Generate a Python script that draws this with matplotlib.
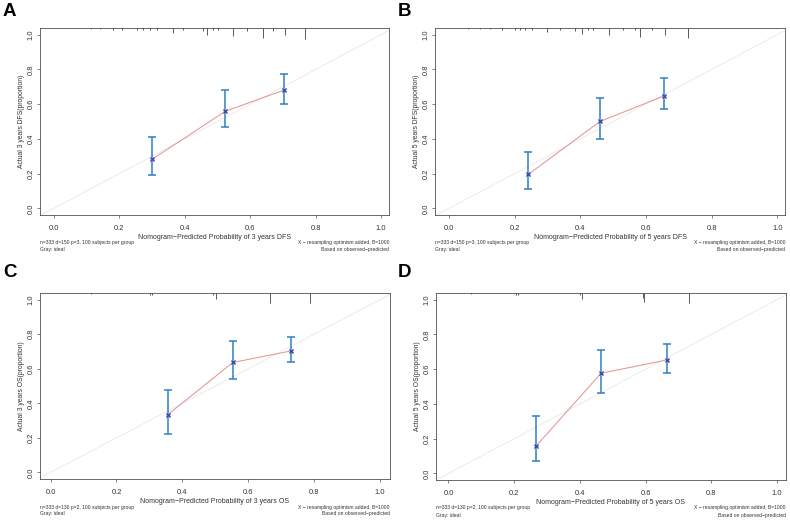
import matplotlib
matplotlib.use("Agg")
import matplotlib.pyplot as plt
import numpy as np

plt.rcParams['font.family'] = ['Liberation Sans', 'DejaVu Sans']

# ---------------- data ----------------
panel_letters = ["A", "B", "C", "D"]
xlabels = ["Nomogram\u2212Predicted Probability of 3 years DFS",
           "Nomogram\u2212Predicted Probability of 5 years DFS",
           "Nomogram\u2212Predicted Probability of 3 years OS",
           "Nomogram\u2212Predicted Probability of 5 years OS"]
ylabels = ["Actual 3 years DFS(proportion)",
           "Actual 5 years DFS(proportion)",
           "Actual 3 years OS(proportion)",
           "Actual 5 years OS(proportion)"]
notes_left = ["n=333 d=150 p=3, 100 subjects per group",
              "n=333 d=150 p=3, 100 subjects per group",
              "n=333 d=130 p=2, 100 subjects per group",
              "n=333 d=130 p=2, 100 subjects per group"]
note_left2 = "Gray: ideal"
note_right1 = "X \u2212 resampling optimism added, B=1000"
note_right2 = "Based on observed\u2212predicted"

pred_A = [0.301, 0.524, 0.704]
obs_A = [0.283, 0.559, 0.681]
lo_A = [0.191, 0.467, 0.603]
hi_A = [0.412, 0.681, 0.774]

pred_B = [0.242, 0.460, 0.656]
obs_B = [0.196, 0.500, 0.648]
lo_B = [0.110, 0.398, 0.571]
hi_B = [0.327, 0.633, 0.750]

pred_C = [0.355, 0.553, 0.730]
obs_C = [0.333, 0.636, 0.703]
lo_C = [0.224, 0.540, 0.636]
hi_C = [0.477, 0.759, 0.784]

pred_D = [0.266, 0.464, 0.665]
obs_D = [0.156, 0.576, 0.653]
lo_D = [0.069, 0.462, 0.580]
hi_D = [0.328, 0.709, 0.746]

# spike histogram of predictions along top (position, spike height)
rug_A_x = [0.115, 0.14, 0.18, 0.207, 0.253, 0.273, 0.294, 0.314, 0.365, 0.396,
           0.457, 0.467, 0.487, 0.503, 0.548, 0.589, 0.640, 0.671, 0.706, 0.768]
rug_A_h = [0.006, 0.004, 0.012, 0.012, 0.012, 0.012, 0.012, 0.012, 0.029, 0.012,
           0.019, 0.038, 0.012, 0.012, 0.044, 0.019, 0.058, 0.019, 0.038, 0.063]
rug_B_x = [0.059, 0.095, 0.126, 0.161, 0.202, 0.217, 0.232, 0.253, 0.298, 0.339,
           0.384, 0.404, 0.425, 0.440, 0.486, 0.531, 0.567, 0.582, 0.618, 0.658, 0.729]
rug_B_h = [0.004, 0.006, 0.008, 0.010, 0.010, 0.010, 0.010, 0.010, 0.023, 0.010,
           0.019, 0.035, 0.012, 0.010, 0.038, 0.012, 0.012, 0.050, 0.012, 0.038, 0.060]
rug_C_x = [0.124, 0.301, 0.309, 0.494, 0.501, 0.666, 0.787]
rug_C_h = [0.004, 0.010, 0.013, 0.012, 0.035, 0.057, 0.057]
rug_D_x = [0.068, 0.206, 0.211, 0.401, 0.407, 0.592, 0.595, 0.733]
rug_D_h = [0.004, 0.010, 0.013, 0.012, 0.035, 0.030, 0.050, 0.057]

ticks = [0.0, 0.2, 0.4, 0.6, 0.8, 1.0]
tick_labels = ["0.0", "0.2", "0.4", "0.6", "0.8", "1.0"]

panels = [
    (pred_A, obs_A, lo_A, hi_A, rug_A_x, rug_A_h),
    (pred_B, obs_B, lo_B, hi_B, rug_B_x, rug_B_h),
    (pred_C, obs_C, lo_C, hi_C, rug_C_x, rug_C_h),
    (pred_D, obs_D, lo_D, hi_D, rug_D_x, rug_D_h),
]

# ---------------- layout ----------------
W, H = 790, 522
fig = plt.figure(figsize=(W / 100, H / 100), dpi=100)

# axes boxes in pixel coords: left, top, right, bottom
boxes = [(40, 28, 389, 215), (435, 28, 785, 215),
         (40, 293, 390, 479), (436, 293, 786, 480)]
xlims = [(-0.042, 1.024), (-0.042, 1.023), (-0.032, 1.030), (-0.038, 1.027)]
letter_pos = [(3, 3), (398, 3), (3, 264), (398, 264)]

ylim = (-0.038, 1.038)
box_col = "#505050"
txt_col = "#333333"

for i, (pred, obs, lo, hi, rx, rh) in enumerate(panels):
    l, t, r, b = boxes[i]
    ax = fig.add_axes([l / W, 1 - b / H, (r - l) / W, (b - t) / H])
    ax.set_xlim(*xlims[i])
    ax.set_ylim(*ylim)

    # ideal line
    ax.plot([-0.1, 1.1], [-0.1, 1.1], color="#ebebeb", lw=0.7, zorder=1)

    # observed curve
    ax.plot(pred, obs, color="#e39696", lw=0.75, zorder=2)

    # error bars
    ax.errorbar(pred, obs, yerr=[np.array(obs) - np.array(lo), np.array(hi) - np.array(obs)],
                fmt="none", ecolor="#2f80c4", elinewidth=1.1, capsize=2.6,
                capthick=1.1, zorder=3)
    ax.plot(pred, obs, linestyle="none", marker="s", markersize=3.2,
            markerfacecolor="#9fc8ee", markeredgecolor="none", zorder=4)
    ax.plot(pred, obs, linestyle="none", marker="x", markersize=2.6,
            markeredgecolor="#3b3b9c", markeredgewidth=0.9, zorder=5)

    # spike histogram at top
    ax.vlines(rx, ylim[1] - np.array(rh), ylim[1], color="#404040", lw=0.6, zorder=3)

    # axes styling
    for s in ax.spines.values():
        s.set_color(box_col)
        s.set_linewidth(0.6)
    ax.set_xticks(ticks)
    ax.set_xticklabels(tick_labels)
    ax.set_yticks(ticks)
    ax.set_yticklabels(tick_labels, rotation=90, va="center")
    ax.tick_params(axis="both", direction="out", length=2.4, width=0.5,
                   color=box_col, labelsize=5.4, labelcolor=txt_col, pad=4.5)
    ax.tick_params(axis="y", pad=1.6)
    ax.set_xlabel(xlabels[i], fontsize=5.0, color=txt_col, labelpad=1.5)
    ax.set_ylabel(ylabels[i], fontsize=4.9, color=txt_col, labelpad=1.6)

    # notes below
    fig.text(l / W, 1 - (b + 28) / H, notes_left[i], fontsize=3.6, color=txt_col,
             ha="left", va="center")
    fig.text(l / W, 1 - (b + 35) / H, note_left2, fontsize=3.6, color=txt_col,
             ha="left", va="center")
    fig.text(r / W, 1 - (b + 28) / H, note_right1, fontsize=3.6, color=txt_col,
             ha="right", va="center")
    fig.text(r / W, 1 - (b + 35) / H, note_right2, fontsize=3.6, color=txt_col,
             ha="right", va="center")

    lx, ly = letter_pos[i]
    fig.text(lx / W, 1 - ly / H, panel_letters[i], fontsize=13.5, fontweight="bold",
             ha="left", va="top", color="black")

fig.savefig("out.png", dpi=100, facecolor="white")
